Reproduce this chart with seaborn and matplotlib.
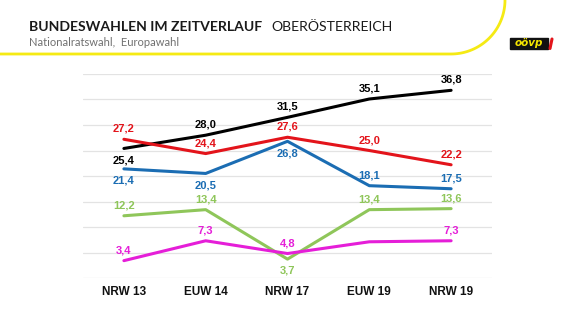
import numpy as np
import pandas as pd
import matplotlib
matplotlib.use("Agg")
import matplotlib.pyplot as plt
import seaborn as sns

categories = ["NRW 13", "EUW 14", "NRW 17", "EUW 19", "NRW 19"]
oevp = [25.4, 28.0, 31.5, 35.1, 36.8]
spoe = [27.2, 24.4, 27.6, 25.0, 22.2]
fpoe = [21.4, 20.5, 26.8, 18.1, 17.5]
gruene = [12.2, 13.4, 3.7, 13.4, 13.6]
neos = [3.4, 7.3, 4.8, 7.1, 7.3]
parties = ["ÖVP", "SPÖ", "FPÖ", "Grüne", "NEOS"]
series = [oevp, spoe, fpoe, gruene, neos]
colors = ["#000000", "#e3141b", "#1b6db3", "#8fc65a", "#e51ed8"]
# label placement: +1 above, -1 below, 0 none
label_pos = [
    [-1, 1, 1, 1, 1],
    [1, 1, 1, 1, 1],
    [-1, -1, -1, 1, 1],
    [1, 1, -1, 1, 1],
    [1, 1, 1, 0, 1],
]

rows = []
for p, vals in zip(parties, series):
    for i, v in enumerate(vals):
        rows.append({"pos": i, "Wahl": categories[i], "Partei": p, "Wert": v})
df = pd.DataFrame(rows)

sns.set_theme(style="white")
plt.rcParams["font.family"] = ["Liberation Sans", "DejaVu Sans"]

W, H = 576, 324
fig = plt.figure(figsize=(W / 100, H / 100), dpi=100)
fig.patch.set_facecolor("white")

# decoration layer in pixel coordinates
deco = fig.add_axes([0, 0, 1, 1], zorder=0)
deco.set_xlim(0, W)
deco.set_ylim(H, 0)
deco.axis("off")
r = 54
t = np.linspace(np.pi / 2, 0, 40)
xs = np.concatenate([[0, 451], 451 + r * np.cos(t)])
ys = np.concatenate([[r, r], r * np.sin(t)])
deco.plot(xs, ys, color="#f5ea14", lw=2.0, solid_capstyle="round")

t1 = deco.text(29, 26.7, "BUNDESWAHLEN IM ZEITVERLAUF", fontsize=10.1, fontweight="bold",
               color="#1a1a1a", va="center", ha="left", family=["Lato", "DejaVu Sans"])
fig.canvas.draw()
bb = t1.get_window_extent()
x_end = bb.x1
deco.text(x_end + 9, 26.7, "OBERÖSTERREICH", fontsize=10.1, color="#1a1a1a", va="center",
          ha="left", family=["Lato", "DejaVu Sans"])
deco.text(29, 42, "Nationalratswahl,  Europawahl", fontsize=8, color="#707070",
          va="center", ha="left", family=["Lato", "DejaVu Sans"])
# logo
deco.add_patch(plt.Rectangle((510, 38), 38, 11, color="#111111"))
deco.text(529, 43.5, "oövp", fontsize=7.5, fontweight="bold", style="italic",
          color="#f5e600", ha="center", va="center", family=["DejaVu Sans"])
deco.plot([552, 550], [39, 48.5], color="#e3141b", lw=2.2)

ax = fig.add_axes([83 / W, (H - 278) / H, (492 - 83) / W, (278 - 74) / H], zorder=1)
ax.patch.set_alpha(0)
sns.lineplot(data=df, x="pos", y="Wert", hue="Partei", palette=colors,
             hue_order=parties, sort=False, linewidth=2.2, legend=False, ax=ax)

ax.set_xlim(-0.5, 4.5)
ax.set_ylim(0, 40)
ax.set_yticks(np.arange(0, 41, 5))
ax.set_yticklabels([])
ax.grid(axis="y", color="#e3e3e3", lw=0.9)
ax.grid(axis="x", visible=False)
ax.set_xticks(range(len(categories)))
ax.set_xticklabels(categories, fontsize=8.5, fontweight="bold", color="#111111")
ax.tick_params(axis="x", length=0, pad=6)
ax.tick_params(axis="y", length=0)
for s in ax.spines.values():
    s.set_visible(False)
ax.set_xlabel("")
ax.set_ylabel("")

for vals, col, lp in zip(series, colors, label_pos):
    for i, (v, p) in enumerate(zip(vals, lp)):
        if p == 0:
            continue
        txt = f"{v:.1f}".replace(".", ",")
        off = 7.5 if p > 0 else -8.5
        ax.annotate(txt, (i, v), xytext=(0, off), textcoords="offset points",
                    ha="center", va="center", fontsize=8, fontweight="bold",
                    color=col)

fig.savefig("out.png", dpi=100, facecolor="white")
